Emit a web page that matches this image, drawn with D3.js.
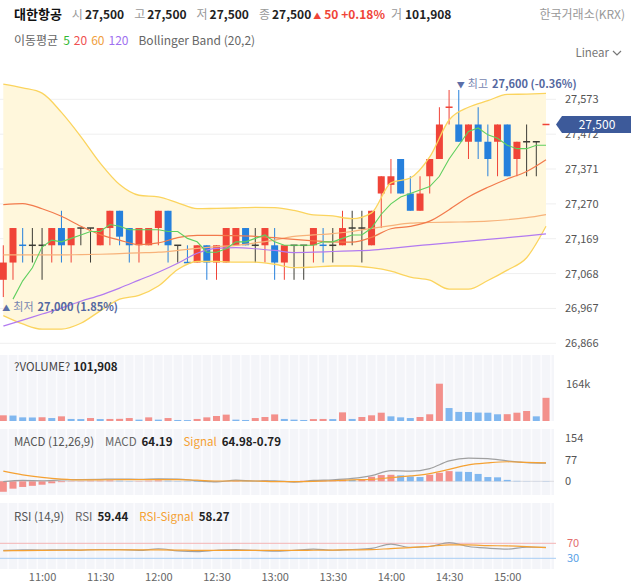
<!DOCTYPE html>
<html>
<head>
<meta charset="utf-8">
<script src="https://cdn.jsdelivr.net/npm/d3@7"></script>
<style>
  body { margin: 0; background: #fff; }
  text { font-family: "Noto Sans CJK KR", "Noto Sans", sans-serif; }
</style>
</head>
<body>
<div id="chart"></div>
<script>
// 5-minute candles, 10:40 .. 15:20
var times = ["10:40","10:45","10:50","10:55","11:00","11:05","11:10","11:15","11:20","11:25",
  "11:30","11:35","11:40","11:45","11:50","11:55","12:00","12:05","12:10","12:15",
  "12:20","12:25","12:30","12:35","12:40","12:45","12:50","12:55","13:00","13:05",
  "13:10","13:15","13:20","13:25","13:30","13:35","13:40","13:45","13:50","13:55",
  "14:00","14:05","14:10","14:15","14:20","14:25","14:30","14:35","14:40","14:45",
  "14:50","14:55","15:00","15:05","15:10","15:15","15:20"];
var timeTicks = ["11:00","11:30","12:00","12:30","13:00","13:30","14:00","14:30","15:00"];

var open  = [27050,27100,27150,27150,27150,27150,27200,27150,27200,27200,27150,27200,27250,27200,27150,27150,27200,27250,27150,27100,
             27100,27150,27100,27100,27150,27200,27150,27150,27150,27100,27150,27150,27150,27150,27150,27150,27200,27200,27150,27300,
             27325,27400,27300,27250,27350,27400,27550,27500,27450,27500,27450,27450,27500,27400,27450,27450,27500];
var high  = [27150,27200,27200,27200,27200,27200,27250,27200,27200,27200,27200,27250,27250,27200,27200,27200,27250,27250,27150,27150,
             27150,27150,27150,27200,27200,27200,27200,27200,27200,27150,27150,27150,27200,27200,27200,27250,27250,27250,27250,27350,
             27400,27400,27350,27350,27400,27550,27600,27600,27500,27550,27500,27500,27500,27450,27500,27450,27500];
var low   = [27000,27050,27100,27100,27050,27100,27100,27100,27150,27100,27150,27150,27150,27100,27100,27150,27150,27100,27100,27100,
             27100,27050,27050,27100,27150,27150,27100,27100,27050,27050,27050,27050,27100,27100,27100,27150,27150,27100,27150,27200,
             27300,27300,27250,27250,27300,27400,27500,27450,27400,27400,27350,27350,27350,27350,27350,27350,27500];
var close = [27100,27200,27150,27150,27150,27200,27150,27200,27200,27200,27200,27250,27175,27150,27200,27200,27250,27150,27150,27100,
             27150,27100,27150,27200,27200,27150,27150,27200,27100,27150,27150,27150,27200,27150,27150,27200,27200,27200,27250,27350,
             27350,27300,27250,27300,27400,27500,27550,27450,27500,27450,27400,27500,27350,27450,27450,27450,27500];
var volume = [25000,24000,16000,15500,16500,13000,20500,9000,8500,13000,8500,9000,9500,13000,6000,16000,6000,13000,4500,4000,
              9000,16000,22000,28000,6000,4500,13000,17500,29000,9000,6000,4500,8500,9000,8500,38000,9000,17500,25000,36500,
              20500,16000,13000,17500,29500,164000,57000,40000,39500,37000,36500,29500,30000,36500,44000,20500,101908];

// moving average 5, read per candle (none drawn on the first one)
var ma5 = [null,26994,27047,27085,27145,27165,27160,27170,27180,27190,27190,27210,27205,27195,27195,27195,27195,27190,27190,27170,
           27160,27130,27130,27140,27160,27160,27170,27180,27160,27150,27150,27150,27150,27160,27160,27170,27180,27180,27200,27240,
           27270,27290,27300,27310,27320,27350,27400,27440,27480,27490,27470,27460,27440,27430,27430,27440,27440];

// slower lines, read at every second candle (10:40, 10:50, ...)
var ma20    = [27268,27271,27256,27234,27205,27181,27165,27152,27157,27172,27179,27179,27178,27176,27172,
               27167,27163,27160,27159,27173,27198,27205,27220,27253,27290,27318,27342,27364,27398];
var ma60    = [27122,27122,27122,27122,27123,27124,27126,27128,27130,27135,27141,27146,27150,27157,27165,
               27176,27180,27184,27190,27199,27207,27214,27216,27217,27218,27220,27224,27230,27239];
var ma120   = [26916,26933,26951,26968,26988,27005,27026,27049,27072,27098,27127,27141,27143,27140,27135,
               27129,27130,27132,27134,27136,27141,27147,27152,27157,27162,27167,27172,27177,27183];
var bbUpper = [27617,27606,27591,27535,27465,27388,27326,27295,27290,27273,27256,27257,27258,27260,27259,
               27251,27238,27235,27227,27244,27331,27345,27406,27513,27550,27569,27587,27588,27590];
var bbLower = [26946,26922,26907,26907,26924,26960,26994,27005,27032,27080,27103,27103,27101,27101,27095,
               27085,27087,27090,27090,27085,27075,27058,27049,27023,27023,27048,27078,27114,27205];

// MACD (12,26,9)
var macdHist = [-37,-26,-20,-16,-12,-7,-3,-1,1,2,2,3,2,1,1,2,3,2,1,-1,
                -2,-3,-2,1,3,1,-1,3,1,-1,-2,2,3,4,4,6,5,7,16,22,
                23,21,17,15,23,30,36,34,33,26,15,14,5,1.5,0.6,-0.3,-0.79];
var macdLine = [-1,3,2,5,6,7,8,7,9,8,2,-2,4,1,2,-3,3,5,10,20,38,36,45,72,82,80,72,66,64.19];
var signalLine = [36,23,14,8,5,5,6,6,6,6,4,1,1,1,-1,-1,0,2,5,7,13,19,27,42,58,65,69,67,64.98];

// RSI (14,9)
var rsiLine = [51,52.5,52,52.5,52,53.5,53.5,51,55.5,50,48,51.5,53.5,51,49,51.5,54.5,51.5,53.5,56.5,68,59,61.5,72,61.5,57,54.5,59.5,59.44];
var rsiSignal = [50,50.5,51,51.5,52,52.5,52.5,52.5,52.5,52,51,51,51,51,51,51,51.5,52,52.5,53,56,58.5,62,65.6,65.6,63.8,63,61,58.27];

var priceTicks = [27573,27472,27371,27270,27169,27068,26967,26866];
var macdTicks = [154,77,0];
var rsiTicks = [70,30];

var width = 631, height = 587, plotRight = 556;
var evenTimes = times.filter(function(t, i) { return i % 2 === 0; });

var svg = d3.select("#chart")
  .append("svg")
    .attr("width", width)
    .attr("height", height)
    .style("display", "block");

var fmt = d3.format(",");
var red = "#f04438", blue = "#2680dc", dark = "#3c3c36";

// scales
var x = d3.scalePoint().domain(times).range([3.3, 546]);
var y = d3.scaleLinear().domain([26866, 27573]).range([343.3, 99.3]);
var yVol = d3.scaleLinear().domain([0, 164000]).range([421, 383.7]);
var yMacd = d3.scaleLinear().domain([0, 154]).range([481.3, 437.7]);
var yRsi = d3.scaleLinear().domain([30, 70]).range([558.3, 543.3]);

function candleColor(i) {
  if (close[i] > open[i]) return red;
  if (close[i] < open[i]) return blue;
  if (i > 0 && close[i] > close[i - 1]) return red;
  if (i > 0 && close[i] < close[i - 1]) return blue;
  return dark;
}

// ---- header
var head = svg.append("text").attr("x", 14).attr("y", 19).style("font-size", "12px");
head.append("tspan").text("대한항공").style("font-weight", "bold").style("font-size", "13px").attr("fill", "#111");
[["시", "27,500"], ["고", "27,500"], ["저", "27,500"], ["종", "27,500"]].forEach(function(p) {
  head.append("tspan").attr("dx", 10).text(p[0]).attr("fill", "#999");
  head.append("tspan").attr("dx", 2).text(p[1]).attr("fill", "#222").style("font-weight", "bold");
});
head.append("tspan").attr("dx", 2).text("▲").attr("fill", red).style("font-size", "8px");
head.append("tspan").attr("dx", 3).text("50 +0.18%").attr("fill", red).style("font-weight", "bold");
head.append("tspan").attr("dx", 6).text("거").attr("fill", "#999");
head.append("tspan").attr("dx", 3).text("101,908").attr("fill", "#222").style("font-weight", "bold");

svg.append("text").attr("x", 625).attr("y", 19).attr("text-anchor", "end")
  .style("font-size", "12px").attr("fill", "#999").text("한국거래소(KRX)");

var legend = svg.append("text").attr("x", 14).attr("y", 45).style("font-size", "12px");
legend.append("tspan").text("이동평균").attr("fill", "#666");
legend.append("tspan").attr("dx", 5).text("5").attr("fill", "#33b833");
legend.append("tspan").attr("dx", 4).text("20").attr("fill", "#f05050");
legend.append("tspan").attr("dx", 4).text("60").attr("fill", "#f0a040");
legend.append("tspan").attr("dx", 4).text("120").attr("fill", "#a070f0");
legend.append("tspan").attr("dx", 10).text("Bollinger Band (20,2)").attr("fill", "#666");

svg.append("text").attr("x", 609).attr("y", 57).attr("text-anchor", "end")
  .style("font-size", "11.5px").attr("fill", "#777").text("Linear");
svg.append("path").attr("d", "M613,51 l4,4 l4,-4").attr("fill", "none").attr("stroke", "#777").attr("stroke-width", 1.2);

// ---- price panel
svg.append("g")
  .selectAll("line")
  .data(priceTicks)
  .enter().append("line")
    .attr("x1", 0).attr("x2", plotRight)
    .attr("y1", function(d) { return y(d); }).attr("y2", function(d) { return y(d); })
    .attr("stroke", "#efefef");

var yAxis = svg.append("g")
  .attr("transform", "translate(560,0)")
  .call(d3.axisRight(y).tickValues(priceTicks).tickFormat(fmt).tickSize(0).tickPadding(5));
yAxis.select(".domain").remove();
yAxis.selectAll("text").style("font-size", "11px").attr("fill", "#555");

var bandPts = evenTimes.map(function(t, k) { return {t: t, u: bbUpper[k], l: bbLower[k]}; });
svg.append("path")
  .datum(bandPts)
  .attr("d", d3.area().curve(d3.curveMonotoneX)
    .x(function(d) { return x(d.t); })
    .y0(function(d) { return y(d.l); })
    .y1(function(d) { return y(d.u); }))
  .attr("fill", "#fff7dc");

// candles
var candles = svg.append("g").selectAll("g")
  .data(times.map(function(t, i) { return i; }))
  .enter().append("g")
    .attr("transform", function(i) { return "translate(" + x(times[i]) + ",0)"; });
candles.append("line")
  .attr("y1", function(i) { return y(high[i]); })
  .attr("y2", function(i) { return y(low[i]); })
  .attr("stroke", candleColor)
  .attr("stroke-width", 1);
candles.append("rect")
  .attr("x", -3.5).attr("width", 7)
  .attr("y", function(i) { return y(Math.max(open[i], close[i])) - (open[i] === close[i] ? 0.75 : 0); })
  .attr("height", function(i) { return Math.max(1.5, Math.abs(y(open[i]) - y(close[i]))); })
  .attr("fill", candleColor);

// band and moving average lines
function sparseLine(vals, color, w) {
  var pts = evenTimes.map(function(t, k) { return {t: t, v: vals[k]}; });
  svg.append("path")
    .datum(pts)
    .attr("d", d3.line().curve(d3.curveMonotoneX)
      .x(function(d) { return x(d.t); })
      .y(function(d) { return y(d.v); }))
    .attr("fill", "none").attr("stroke", color).attr("stroke-width", w);
}
sparseLine(bbUpper, "#fbd45e", 1.3);
sparseLine(bbLower, "#fbd45e", 1.3);
sparseLine(ma120, "#b27af0", 1.2);
sparseLine(ma60, "#f7b27a", 1.2);
sparseLine(ma20, "#f27a4c", 1.2);

svg.append("path")
  .datum(times.map(function(t, i) { return {t: t, v: ma5[i]}; }))
  .attr("d", d3.line()
    .defined(function(d) { return d.v !== null; })
    .x(function(d) { return x(d.t); })
    .y(function(d) { return y(d.v); }))
  .attr("fill", "none").attr("stroke", "#5fcf5f").attr("stroke-width", 1.1);

// high / low notes
var hiNote = svg.append("text").attr("x", x("14:35") - 2).attr("y", 88).style("font-size", "11px");
hiNote.append("tspan").text("▼").style("font-size", "8px").attr("fill", "#5b6ea8");
hiNote.append("tspan").attr("dx", 3).text("최고").attr("fill", "#7685b0");
hiNote.append("tspan").attr("dx", 4).text("27,600 (-0.36%)").attr("fill", "#5468a0").style("font-weight", "bold");

var loNote = svg.append("text").attr("x", x("10:40") - 1).attr("y", 311).style("font-size", "11px");
loNote.append("tspan").text("▲").style("font-size", "8px").attr("fill", "#5b6ea8");
loNote.append("tspan").attr("dx", 3).text("최저").attr("fill", "#7685b0");
loNote.append("tspan").attr("dx", 4).text("27,000 (1.85%)").attr("fill", "#5468a0").style("font-weight", "bold");

// last price tag
var lastY = y(close[close.length - 1]);
svg.append("path")
  .attr("d", "M556," + lastY + " L562," + (lastY - 8.5) + " L631," + (lastY - 8.5) + " L631," + (lastY + 8.5) + " L562," + (lastY + 8.5) + " Z")
  .attr("fill", "#3d5a9a");
svg.append("text").attr("x", 597).attr("y", lastY + 4.5).attr("text-anchor", "middle")
  .style("font-size", "12px").attr("fill", "#fff").text(fmt(close[close.length - 1]));

// ---- lower panels background with candle stripes
function panelBg(top, bottom) {
  svg.append("rect").attr("x", 0).attr("y", top).attr("width", 554).attr("height", bottom - top).attr("fill", "#f4f5f9");
  svg.append("g").selectAll("line")
    .data(times)
    .enter().append("line")
      .attr("x1", function(d) { return x(d) + 4.85; }).attr("x2", function(d) { return x(d) + 4.85; })
      .attr("y1", top).attr("y2", bottom)
      .attr("stroke", "#fcfcfe").attr("stroke-width", 1.5);
}
panelBg(355, 421);
panelBg(429, 495);
panelBg(503, 569);

// ---- volume
svg.append("g").selectAll("rect")
  .data(volume)
  .enter().append("rect")
    .attr("x", function(d, i) { return x(times[i]) - 3.5; })
    .attr("width", 7)
    .attr("y", function(d) { return yVol(d); })
    .attr("height", function(d) { return yVol(0) - yVol(d); })
    .attr("fill", function(d, i) { return i > 0 && d < volume[i - 1] ? "#80b7ef" : "#f3908b"; });

var volHead = svg.append("text").attr("x", 14).attr("y", 371).style("font-size", "11.5px");
volHead.append("tspan").text("?VOLUME?").attr("fill", "#444");
volHead.append("tspan").attr("dx", 3).text(fmt(volume[volume.length - 1])).attr("fill", "#222").style("font-weight", "bold");
svg.append("text").attr("x", 566).attr("y", yVol(164000) + 4).style("font-size", "11px").attr("fill", "#555").text("164k");

// ---- MACD
svg.append("line").attr("x1", 0).attr("x2", 554).attr("y1", yMacd(0)).attr("y2", yMacd(0)).attr("stroke", "#dcdde2");
svg.append("g").selectAll("rect")
  .data(macdHist)
  .enter().append("rect")
    .attr("x", function(d, i) { return x(times[i]) - 3.5; })
    .attr("width", 7)
    .attr("y", function(d) { return Math.min(yMacd(d), yMacd(0)); })
    .attr("height", function(d) { return Math.abs(yMacd(d) - yMacd(0)); })
    .attr("fill", function(d, i) { return i > 0 && d < macdHist[i - 1] ? "#80b7ef" : "#f3908b"; });

function lowerLine(vals, scale, color) {
  svg.append("path")
    .datum(evenTimes.map(function(t, k) { return {t: t, v: vals[k]}; }))
    .attr("d", d3.line().curve(d3.curveMonotoneX)
      .x(function(d) { return x(d.t); })
      .y(function(d) { return scale(d.v); }))
    .attr("fill", "none").attr("stroke", color).attr("stroke-width", 1.2);
}
lowerLine(macdLine, yMacd, "#a0a0a0");
lowerLine(signalLine, yMacd, "#f5a132");

var macdAxis = svg.append("g")
  .attr("transform", "translate(560,0)")
  .call(d3.axisRight(yMacd).tickValues(macdTicks).tickSize(0).tickPadding(5));
macdAxis.select(".domain").remove();
macdAxis.selectAll("text").style("font-size", "11px").attr("fill", "#555");

var macdHead = svg.append("text").attr("x", 14).attr("y", 446).style("font-size", "11.5px");
macdHead.append("tspan").text("MACD (12,26,9)").attr("fill", "#555");
macdHead.append("tspan").attr("dx", 11).text("MACD").attr("fill", "#666");
macdHead.append("tspan").attr("dx", 5).text("64.19").attr("fill", "#222").style("font-weight", "bold");
macdHead.append("tspan").attr("dx", 11).text("Signal").attr("fill", "#f5a132");
macdHead.append("tspan").attr("dx", 5).text("64.98-0.79").attr("fill", "#222").style("font-weight", "bold");

// ---- RSI
svg.append("line").attr("x1", 0).attr("x2", 556).attr("y1", yRsi(70)).attr("y2", yRsi(70)).attr("stroke", "#f4b4b4");
svg.append("line").attr("x1", 0).attr("x2", 556).attr("y1", yRsi(30)).attr("y2", yRsi(30)).attr("stroke", "#a8cdf4");
lowerLine(rsiLine, yRsi, "#a0a0a0");
lowerLine(rsiSignal, yRsi, "#f5a132");

var rsiAxis = svg.append("g")
  .attr("transform", "translate(562,0)")
  .call(d3.axisRight(yRsi).tickValues(rsiTicks).tickSize(0).tickPadding(5));
rsiAxis.select(".domain").remove();
rsiAxis.selectAll("text").style("font-size", "11px")
  .attr("fill", function(d) { return d === 70 ? "#e36d6d" : "#5a9fe6"; });

var rsiHead = svg.append("text").attr("x", 14).attr("y", 521).style("font-size", "11.5px");
rsiHead.append("tspan").text("RSI (14,9)").attr("fill", "#555");
rsiHead.append("tspan").attr("dx", 11).text("RSI").attr("fill", "#666");
rsiHead.append("tspan").attr("dx", 5).text("59.44").attr("fill", "#222").style("font-weight", "bold");
rsiHead.append("tspan").attr("dx", 11).text("RSI-Signal").attr("fill", "#f5a132");
rsiHead.append("tspan").attr("dx", 5).text("58.27").attr("fill", "#222").style("font-weight", "bold");

// ---- time axis
var xAxis = svg.append("g")
  .attr("transform", "translate(0,568)")
  .call(d3.axisBottom(x).tickValues(timeTicks).tickSize(0).tickPadding(5));
xAxis.select(".domain").remove();
xAxis.selectAll("text").style("font-size", "11px").attr("fill", "#666");
</script>
</body>
</html>
